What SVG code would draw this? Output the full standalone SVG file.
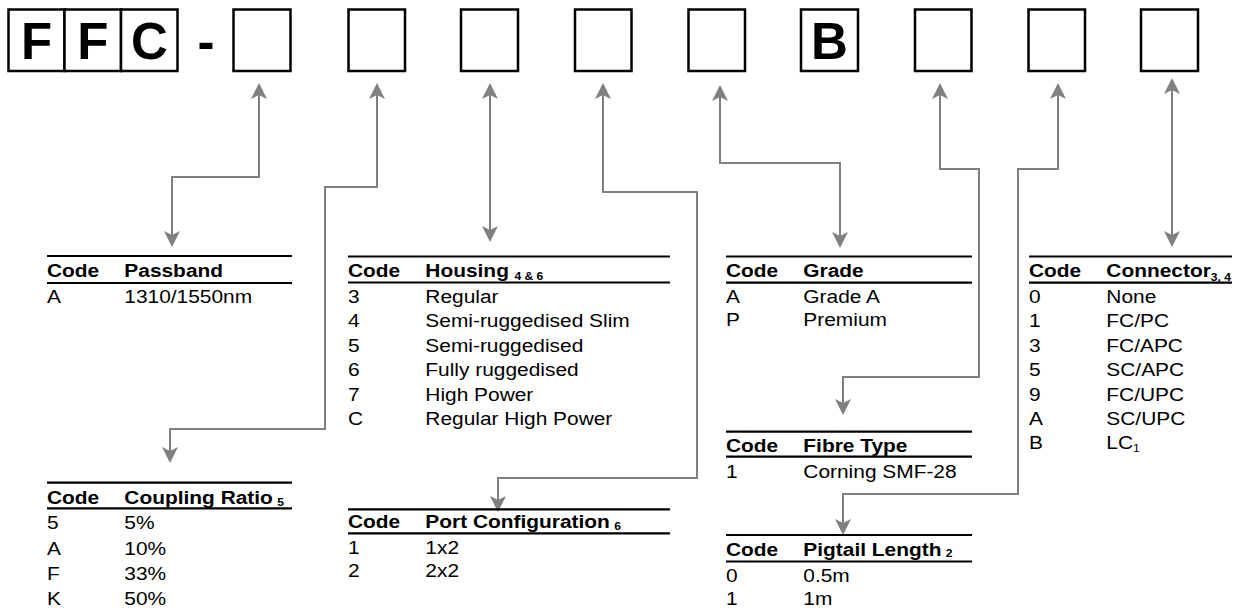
<svg xmlns="http://www.w3.org/2000/svg" width="1240" height="610" viewBox="0 0 1240 610">
<style>
text{font-family:"Liberation Sans",Arial,sans-serif;fill:#000}
.big{font-size:51px;font-weight:bold;text-anchor:middle}
.box{fill:#fff;stroke:#000;stroke-width:2.5}
.t{font-size:19px}
.h{font-size:19px;font-weight:bold}
.sub{font-size:11px;font-weight:bold}
.subr{font-size:11px}
.rule{stroke:#000;stroke-width:2.2}
.conn{fill:none;stroke:#808080;stroke-width:2;marker-start:url(#ah);marker-end:url(#ah)}
</style>
<defs>
<marker id="ah" markerUnits="userSpaceOnUse" markerWidth="16" markerHeight="16" refX="13" refY="8" orient="auto-start-reverse" viewBox="0 0 16 16">
<path d="M0,0 L16,8 L0,16 L4,8 Z" fill="#808080"/>
</marker>
</defs>
<rect width="1240" height="610" fill="#fff"/>

<g id="code-boxes">
<g id="box-f1"><rect class="box" x="8.5" y="9.5" width="56" height="61.5"/><text class="big" x="36.5" y="58.5">F</text></g>
<g id="box-f2"><rect class="box" x="64.5" y="9.5" width="56.5" height="61.5"/><text class="big" x="92.8" y="58.5">F</text></g>
<g id="box-c"><rect class="box" x="121" y="9.5" width="56.5" height="61.5"/><text class="big" x="149.3" y="58.5">C</text></g>
<g id="dash"><text class="big" x="206" y="58.5">-</text></g>
<g id="box-passband"><rect class="box" x="233.5" y="9.5" width="57" height="61.5"/></g>
<g id="box-coupling"><rect class="box" x="348.5" y="9.5" width="56.5" height="61.5"/></g>
<g id="box-housing"><rect class="box" x="461" y="9.5" width="57" height="61.5"/></g>
<g id="box-port"><rect class="box" x="575" y="9.5" width="56.5" height="61.5"/></g>
<g id="box-grade"><rect class="box" x="688.5" y="9.5" width="56.5" height="61.5"/></g>
<g id="box-b"><rect class="box" x="801" y="9.5" width="57" height="61.5"/><text class="big" x="829.5" y="59">B</text></g>
<g id="box-fibre"><rect class="box" x="915" y="9.5" width="56.5" height="61.5"/></g>
<g id="box-pigtail"><rect class="box" x="1028.5" y="9.5" width="56.5" height="61.5"/></g>
<g id="box-connector"><rect class="box" x="1141" y="9.5" width="57" height="61.5"/></g>
</g>

<g id="connectors">
<path class="conn" d="M259,86 V177 H172 V244"/>
<path class="conn" d="M377,86 V187 H325 V429 H170 V460"/>
<path class="conn" d="M490,86 V239"/>
<path class="conn" d="M603,86 V192 H697 V478 H498 V509"/>
<path class="conn" d="M720,88 V163 H840 V245"/>
<path class="conn" d="M940,86 V169 H979 V377 H843 V412"/>
<path class="conn" d="M1058,86 V169 H1018 V494 H843 V532"/>
<path class="conn" d="M1172,81 V244"/>
</g>

<g id="table-passband" transform="translate(47,0) scale(1.1,1)">
<line class="rule" x1="0" y1="256" x2="222.7" y2="256"/>
<line class="rule" x1="0" y1="283" x2="222.7" y2="283"/>
<text class="h" x="0" y="277">Code</text><text class="h" x="70.3" y="277">Passband</text>
<text class="t" x="0" y="303.3">A</text><text class="t" x="70.3" y="303.3">1310/1550nm</text>
</g>

<g id="table-coupling" transform="translate(47,0) scale(1.1,1)">
<line class="rule" x1="0" y1="482.7" x2="222.7" y2="482.7"/>
<line class="rule" x1="0" y1="508.3" x2="222.7" y2="508.3"/>
<text class="h" x="0" y="504">Code</text><text class="h" x="70.3" y="504">Coupling Ratio<tspan class="sub" dx="4" dy="2">5</tspan></text>
<text class="t" x="0" y="529.5">5</text><text class="t" x="70.3" y="529.5">5%</text>
<text class="t" x="0" y="555">A</text><text class="t" x="70.3" y="555">10%</text>
<text class="t" x="0" y="580">F</text><text class="t" x="70.3" y="580">33%</text>
<text class="t" x="0" y="605">K</text><text class="t" x="70.3" y="605">50%</text>
</g>

<g id="table-housing" transform="translate(348,0) scale(1.1,1)">
<line class="rule" x1="0" y1="256.5" x2="292.7" y2="256.5"/>
<line class="rule" x1="0" y1="282.5" x2="292.7" y2="282.5"/>
<text class="h" x="0" y="277">Code</text><text class="h" x="70.3" y="277">Housing<tspan class="sub" dx="5" dy="3">4 &amp; 6</tspan></text>
<text class="t" x="0" y="303.3">3</text><text class="t" x="70.3" y="303.3">Regular</text>
<text class="t" x="0" y="327.5">4</text><text class="t" x="70.3" y="327.5">Semi-ruggedised Slim</text>
<text class="t" x="0" y="351.8">5</text><text class="t" x="70.3" y="351.8">Semi-ruggedised</text>
<text class="t" x="0" y="376.5">6</text><text class="t" x="70.3" y="376.5">Fully ruggedised</text>
<text class="t" x="0" y="400.7">7</text><text class="t" x="70.3" y="400.7">High Power</text>
<text class="t" x="0" y="425">C</text><text class="t" x="70.3" y="425">Regular High Power</text>
</g>

<g id="table-port" transform="translate(348,0) scale(1.1,1)">
<line class="rule" x1="0" y1="509.3" x2="292.7" y2="509.3"/>
<line class="rule" x1="0" y1="533.3" x2="292.7" y2="533.3"/>
<text class="h" x="0" y="528.5">Code</text><text class="h" x="70.3" y="528.5">Port Configuration<tspan class="sub" dx="4" dy="2">6</tspan></text>
<text class="t" x="0" y="554.5">1</text><text class="t" x="70.3" y="554.5">1x2</text>
<text class="t" x="0" y="577">2</text><text class="t" x="70.3" y="577">2x2</text>
</g>

<g id="table-grade" transform="translate(726,0) scale(1.1,1)">
<line class="rule" x1="0" y1="256.5" x2="223.6" y2="256.5"/>
<line class="rule" x1="0" y1="282.7" x2="223.6" y2="282.7"/>
<text class="h" x="0" y="277">Code</text><text class="h" x="70.3" y="277">Grade</text>
<text class="t" x="0" y="303.3">A</text><text class="t" x="70.3" y="303.3">Grade A</text>
<text class="t" x="0" y="326.5">P</text><text class="t" x="70.3" y="326.5">Premium</text>
</g>

<g id="table-fibre" transform="translate(726,0) scale(1.1,1)">
<line class="rule" x1="0" y1="431.7" x2="223.6" y2="431.7"/>
<line class="rule" x1="0" y1="456.7" x2="223.6" y2="456.7"/>
<text class="h" x="0" y="452">Code</text><text class="h" x="70.3" y="452">Fibre Type</text>
<text class="t" x="0" y="478.3">1</text><text class="t" x="70.3" y="478.3">Corning SMF-28</text>
</g>

<g id="table-pigtail" transform="translate(726,0) scale(1.1,1)">
<line class="rule" x1="0" y1="535" x2="223.6" y2="535"/>
<line class="rule" x1="0" y1="561.5" x2="223.6" y2="561.5"/>
<text class="h" x="0" y="556">Code</text><text class="h" x="70.3" y="556">Pigtail Length<tspan class="sub" dx="4" dy="1">2</tspan></text>
<text class="t" x="0" y="582">0</text><text class="t" x="70.3" y="582">0.5m</text>
<text class="t" x="0" y="605">1</text><text class="t" x="70.3" y="605">1m</text>
</g>

<g id="table-connector" transform="translate(1029,0) scale(1.1,1)">
<line class="rule" x1="0" y1="256.5" x2="184.5" y2="256.5"/>
<line class="rule" x1="0" y1="282.7" x2="184.5" y2="282.7"/>
<text class="h" x="0" y="277">Code</text><text class="h" x="70.3" y="277">Connector<tspan class="sub" dy="4">3, 4</tspan></text>
<text class="t" x="0" y="303.3">0</text><text class="t" x="70.3" y="303.3">None</text>
<text class="t" x="0" y="327.3">1</text><text class="t" x="70.3" y="327.3">FC/PC</text>
<text class="t" x="0" y="351.7">3</text><text class="t" x="70.3" y="351.7">FC/APC</text>
<text class="t" x="0" y="376.5">5</text><text class="t" x="70.3" y="376.5">SC/APC</text>
<text class="t" x="0" y="400.7">9</text><text class="t" x="70.3" y="400.7">FC/UPC</text>
<text class="t" x="0" y="425">A</text><text class="t" x="70.3" y="425">SC/UPC</text>
<text class="t" x="0" y="449.3">B</text><text class="t" x="70.3" y="449.3">LC<tspan class="subr" dy="3">1</tspan></text>
</g>
</svg>
